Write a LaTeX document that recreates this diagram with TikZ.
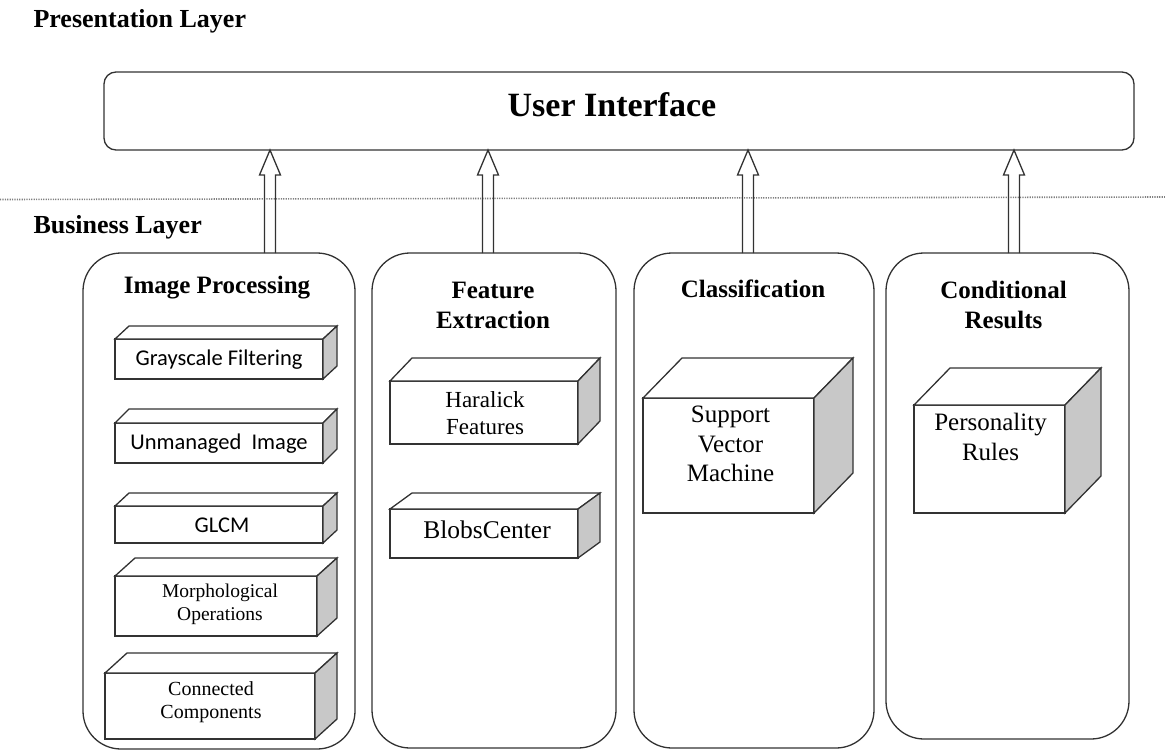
\documentclass[tikz,border=0pt]{standalone}
\usepackage{fontspec}
\setmainfont{Liberation Serif}
\newfontfamily\labelsans{Carlito}
\usetikzlibrary{calc}

% top and right faces of a cuboid whose front face is node #1
\newcommand\cuboidfaces[3]{%
  \draw[edge, fill=white] (#1.north west) -- ++(#2,-#3) -- ($(#1.north east)+(#2,-#3)$) -- (#1.north east) -- cycle;
  \draw[edge, fill=sidegray] (#1.north east) -- ++(#2,-#3) -- ($(#1.south east)+(#2,-#3)$) -- (#1.south east) -- cycle;
}

\definecolor{sidegray}{RGB}{200,200,200}
\definecolor{inkgray}{RGB}{50,50,50}

\begin{document}
\begin{tikzpicture}[x=1pt,y=-1pt,
  edge/.style={draw=inkgray, line width=1.3pt, line join=miter},
  container/.style={edge, rectangle, rounded corners=38pt, inner sep=0pt, outer sep=0pt},
  face/.style={edge, fill=white, rectangle, inner sep=0pt, outer sep=0pt},
  facetext/.style={align=center, inner sep=0pt},
  title/.style={align=center, font=\fontsize{25}{30}\selectfont\bfseries},
  layer/.style={anchor=base west, font=\fontsize{26}{30}\selectfont\bfseries},
  sanslabel/.style={font=\labelsans\fontsize{22.5}{26}\selectfont},
  smallserif/.style={font=\fontsize{19.5}{23}\selectfont},
  bigserif/.style={font=\fontsize{25}{29.5}\selectfont},
  uparrow/.style={draw=inkgray, line width=1.3pt, line join=miter, to path={
    let \p1=(\tikztostart), \p2=(\tikztotarget) in
    (\x1-5.5pt,\y1) -- (\x1-5.5pt,\y2-25pt) -- (\x1-10.5pt,\y2-25pt) -- (\x1,\y2)
    -- (\x1+10.5pt,\y2-25pt) -- (\x1+5.5pt,\y2-25pt) -- (\x1+5.5pt,\y1)}}
]
\useasboundingbox (0,0) rectangle (1165,753);

% layer captions and separator
\node[layer] (pl) at (30,27) {Presentation Layer};
\node[layer] (bl) at (30,233) {Business Layer};
\draw[draw=gray, line width=1.6pt, dash pattern=on 1.2pt off 1.2pt] (0,199.5) -- (1165,197);

% presentation layer
\node[container, rounded corners=12pt, minimum width=1030pt, minimum height=78pt] (ui) at (619,111) {};
\node[anchor=base, font=\fontsize{34}{40}\selectfont\bfseries] (uit) at (612,116) {User Interface};

% business layer containers
\node[container, minimum width=272pt, minimum height=496pt] (ip) at (219,501) {};
\node[container, minimum width=244pt, minimum height=495pt] (fe) at (494,500.5) {};
\node[container, minimum width=240pt, minimum height=495pt] (cl) at (754,500.5) {};
\node[container, minimum width=243pt, minimum height=486pt] (cr) at (1007.5,496) {};

\node[title] (ipt) at ($(ip.north)+(-2,35)$) {Image Processing};
\node[title] (fet) at ($(fe.north)+(-1,52)$) {Feature\\Extraction};
\node[title] (clt) at ($(cl.north)+(-1,36)$) {Classification};
\node[title] (crt) at ($(cr.north)+(-4,52)$) {Conditional\\Results};

% arrows from each container up to the user interface
\coordinate (a1) at (270,253);
\coordinate (a2) at (488,253);
\coordinate (a3) at (748,253);
\coordinate (a4) at (1014,253);
\foreach \a in {a1,a2,a3,a4}
  \draw[uparrow] (\a) to (\a |- ui.south);

% image processing components
\node[face, minimum width=208pt, minimum height=40pt] (gf) at (219,359) {};
\cuboidfaces{gf}{14}{13}
\node[facetext, sanslabel] (gft) at ($(gf.center)+(0,1)$) {Grayscale Filtering};
\node[face, minimum width=208pt, minimum height=40pt] (um) at (219,443) {};
\cuboidfaces{um}{14}{14}
\node[facetext, sanslabel] (umt) at ($(um.center)+(0,1)$) {Unmanaged\ \ Image};
\node[face, minimum width=208pt, minimum height=37pt] (gl) at (219,524.5) {};
\cuboidfaces{gl}{14}{13}
\node[facetext, sanslabel] (glt) at ($(gl.center)+(3,1)$) {GLCM};
\node[face, minimum width=202pt, minimum height=60pt] (mo) at (216,606) {};
\cuboidfaces{mo}{20}{18}
\node[facetext, smallserif] (mot) at ($(mo.center)+(4,-2)$) {Morphological\\Operations};
\node[face, minimum width=210pt, minimum height=66pt] (cc) at (210,706) {};
\cuboidfaces{cc}{22}{20}
\node[facetext, smallserif, font=\fontsize{20}{23}\selectfont] (cct) at ($(cc.center)+(1,-4)$) {Connected\\Components};

% feature extraction components
\node[face, minimum width=188pt, minimum height=63pt] (ha) at (484,412.5) {};
\cuboidfaces{ha}{22}{23}
\node[facetext, font=\fontsize{23}{27}\selectfont] (hat) at ($(ha.center)+(1,1)$) {Haralick\\Features};
\node[face, minimum width=188pt, minimum height=49pt] (bc) at (484,533.5) {};
\cuboidfaces{bc}{22}{16}
\node[facetext, font=\fontsize{25.5}{30}\selectfont] (bct) at ($(bc.center)+(3,-4)$) {BlobsCenter};

% classification component
\node[face, minimum width=171pt, minimum height=115pt] (svm) at (728.5,455.5) {};
\cuboidfaces{svm}{39}{40}
\node[facetext, bigserif, anchor=north] (svmt) at ($(svm.north)+(2,8)$) {Support\\Vector\\Machine};

% conditional results component
\node[face, minimum width=151pt, minimum height=108pt] (pr) at (989.5,459) {};
\cuboidfaces{pr}{36}{37}
\node[facetext, bigserif, anchor=north] (prt) at ($(pr.north)+(1,8)$) {Personality\\Rules};

\end{tikzpicture}
\end{document}
